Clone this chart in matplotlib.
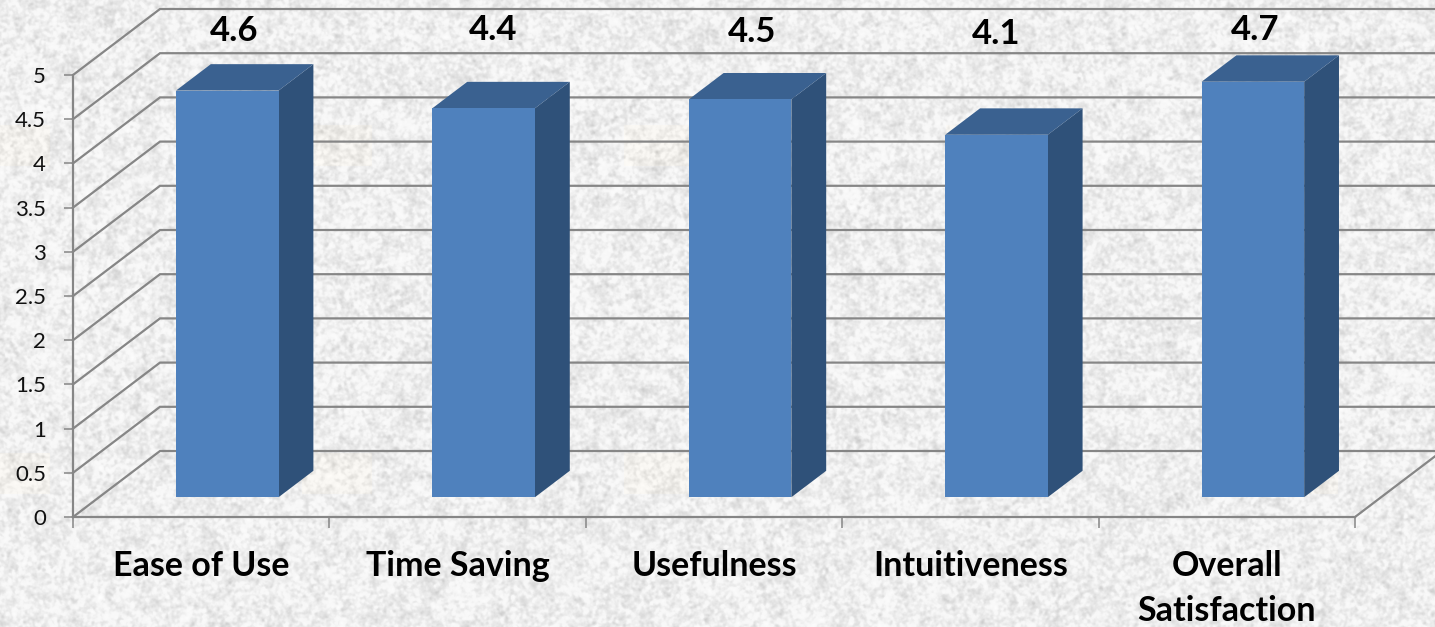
import matplotlib
matplotlib.use('Agg')
import matplotlib.pyplot as plt
import numpy as np

categories = ['Ease of Use', 'Time Saving', 'Usefulness', 'Intuitiveness', 'Overall\nSatisfaction']
scores = [4.6, 4.4, 4.5, 4.1, 4.7]
score_labels = ['4.6', '4.4', '4.5', '4.1', '4.7']
y_ticks = [0, 0.5, 1, 1.5, 2, 2.5, 3, 3.5, 4, 4.5, 5]
y_tick_labels = ['0', '0.5', '1', '1.5', '2', '2.5', '3', '3.5', '4', '4.5', '5']

W, H = 1435, 627
LEFT, RIGHT, TOP, BOTTOM = 73, 1355, 75, 517

# 3d look: how far the back wall is shifted, in data units
DX = 87 / ((RIGHT - LEFT) / 5)
DY = 66 / ((BOTTOM - TOP) / 5)
BAR_START = 0.30
BAR_DEPTH = 0.40
BAR_HALF = 0.2

GRID = '#868686'
FRONT = '#4F81BD'
ROOF = '#3A6190'
SIDE = '#2F5179'

plt.rcParams['font.family'] = ['Lato', 'DejaVu Sans']


def smooth_noise(rng, sigma):
    # gaussian blur of white noise through the fft
    n = rng.standard_normal((H, W))
    fy = np.fft.fftfreq(H)[:, None]
    fx = np.fft.rfftfreq(W)[None, :]
    g = np.exp(-2 * (np.pi * sigma) ** 2 * (fx ** 2 + fy ** 2))
    out = np.fft.irfft2(np.fft.rfft2(n) * g, s=(H, W))
    return out / out.std()


def stone_texture():
    rng = np.random.default_rng(7)
    grey = 239 + 7.0 * smooth_noise(rng, 1.3) + 4.0 * smooth_noise(rng, 4.0) + 1.5 * smooth_noise(rng, 0.6)
    grey = np.minimum(grey, 247 + 0.25 * (grey - 247))
    img = np.dstack([grey, grey, grey])
    # faint warm streaks in the paper
    for y0, y1 in [(125, 166), (453, 494)]:
        for x0 in range(-20, W, 322):
            img[y0:y1, max(x0, 0):x0 + 70] += [2, 0, -4]
    return np.clip(img, 0, 255).astype(np.uint8)


fig = plt.figure(figsize=(W / 100, H / 100), dpi=100)

bg = fig.add_axes([0, 0, 1, 1], zorder=0)
bg.imshow(stone_texture(), aspect='auto', interpolation='nearest')
bg.axis('off')

ax = fig.add_axes([LEFT / W, 1 - BOTTOM / H, (RIGHT - LEFT) / W, (BOTTOM - TOP) / H], zorder=1)
ax.patch.set_alpha(0)
ax.set_xlim(0, 5)
ax.set_ylim(0, 5)

# gridlines run up the side wall and then along the back wall
for v in y_ticks:
    ax.plot([0, DX, 5 + DX], [v, v + DY, v + DY], color=GRID, lw=1.6, clip_on=False, zorder=1,
            solid_joinstyle='miter')
ax.plot([5, 5 + DX], [0, DY], color=GRID, lw=1.6, clip_on=False, zorder=1)

for i, (score, label) in enumerate(zip(scores, score_labels)):
    x0 = i + 0.5 - BAR_HALF + BAR_START * DX
    x1 = i + 0.5 + BAR_HALF + BAR_START * DX
    y0 = BAR_START * DY
    y1 = score + BAR_START * DY
    dx = BAR_DEPTH * DX
    dy = BAR_DEPTH * DY
    ax.fill([x1, x1 + dx, x1 + dx, x1], [y0, y0 + dy, y1 + dy, y1], color=SIDE, lw=0, clip_on=False, zorder=3)
    ax.fill([x0, x1, x1 + dx, x0 + dx], [y1, y1, y1 + dy, y1 + dy], color=ROOF, lw=0, clip_on=False, zorder=3)
    ax.fill([x0, x1, x1, x0], [y0, y0, y1, y1], color=FRONT, lw=0, clip_on=False, zorder=4)

# data labels sit in a row above the chart, each nudged a little
label_dx = [0.13, 0.14, 0.15, 0.10, 0.11]
label_y = [5.50, 5.51, 5.49, 5.46, 5.51]
for i, label in enumerate(score_labels):
    ax.text(i + 0.5 + label_dx[i], label_y[i], label, ha='center', va='center', fontsize=25,
            fontweight='bold', color='black', clip_on=False, zorder=5)

for side in ['top', 'right']:
    ax.spines[side].set_visible(False)
for side in ['left', 'bottom']:
    ax.spines[side].set_color(GRID)
    ax.spines[side].set_linewidth(1.6)
    ax.spines[side].set_zorder(2)

ax.set_yticks(y_ticks)
ax.set_yticklabels(y_tick_labels, fontsize=16, color='#111111')
ax.tick_params(axis='y', length=6.5, width=1.1, color=GRID, pad=13)

ax.set_xticks(range(6))
ax.set_xticklabels([])
ax.tick_params(axis='x', which='major', length=8, width=1.1, color=GRID)
ax.set_xticks(np.arange(5) + 0.5, minor=True)
ax.set_xticklabels(categories, minor=True, fontsize=24.5, fontweight='bold', color='black', linespacing=1.5)
ax.tick_params(axis='x', which='minor', length=0, pad=24)

fig.savefig('out.png', dpi=100)
